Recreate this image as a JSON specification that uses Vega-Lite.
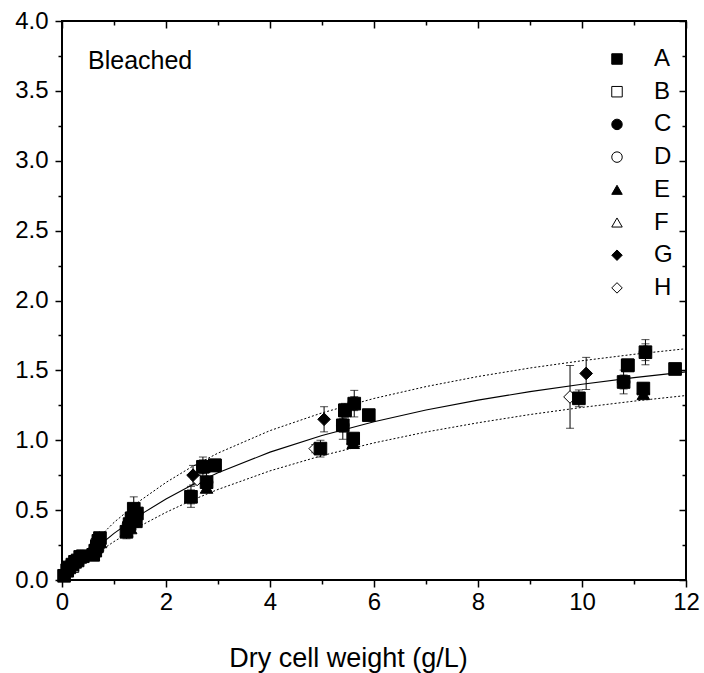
{
  "$schema": "https://vega.github.io/schema/vega-lite/v6.json",
  "width": 624,
  "height": 559,
  "autosize": {"type": "none"},
  "padding": {"left": 62, "top": 21, "right": 18, "bottom": 93},
  "background": "white",
  "config": {
    "font": "Liberation Sans",
    "view": {"stroke": "black", "strokeWidth": 2},
    "axis": {
      "domain": false,
      "grid": false,
      "tickColor": "black",
      "tickWidth": 1.5,
      "labelColor": "black",
      "titleColor": "black",
      "labelFont": "Liberation Sans",
      "titleFont": "Liberation Sans",
      "titleFontWeight": "normal",
      "labelFlush": false,
      "labelOverlap": false
    }
  },
  "datasets": {
    "points": [
      {"s": "B", "x": 0.2, "y": 0.1, "lo": 0.09, "hi": 0.11},
      {"s": "B", "x": 0.68, "y": 0.25, "lo": 0.23, "hi": 0.27},
      {"s": "B", "x": 1.34, "y": 0.44, "lo": 0.41, "hi": 0.47},
      {"s": "B", "x": 2.94, "y": 0.82, "lo": 0.79, "hi": 0.85},
      {"s": "B", "x": 5.44, "y": 1.214, "lo": 1.174, "hi": 1.254},
      {"s": "B", "x": 10.88, "y": 1.536, "lo": 1.506, "hi": 1.566},
      {"s": "C", "x": 0.14, "y": 0.09, "lo": 0.08, "hi": 0.1},
      {"s": "C", "x": 0.7, "y": 0.29, "lo": 0.27, "hi": 0.31},
      {"s": "C", "x": 1.28, "y": 0.4, "lo": 0.37, "hi": 0.43},
      {"s": "C", "x": 2.71, "y": 0.81, "lo": 0.76, "hi": 0.86},
      {"s": "C", "x": 5.4, "y": 1.107, "lo": 1.057, "hi": 1.157},
      {"s": "C", "x": 10.8, "y": 1.417, "lo": 1.367, "hi": 1.467},
      {"s": "D", "x": 0.25, "y": 0.12, "lo": 0.11, "hi": 0.13},
      {"s": "D", "x": 0.64, "y": 0.21, "lo": 0.19, "hi": 0.23},
      {"s": "D", "x": 1.44, "y": 0.48, "lo": 0.45, "hi": 0.51},
      {"s": "D", "x": 2.78, "y": 0.7, "lo": 0.66, "hi": 0.74},
      {"s": "D", "x": 5.62, "y": 1.262, "lo": 1.212, "hi": 1.312},
      {"s": "D", "x": 11.22, "y": 1.63, "lo": 1.57, "hi": 1.69},
      {"s": "F", "x": 0.3, "y": 0.15, "lo": 0.14, "hi": 0.16},
      {"s": "F", "x": 0.6, "y": 0.18, "lo": 0.16, "hi": 0.2},
      {"s": "F", "x": 1.24, "y": 0.35, "lo": 0.32, "hi": 0.38},
      {"s": "F", "x": 2.48, "y": 0.595, "lo": 0.545, "hi": 0.645},
      {"s": "F", "x": 5.6, "y": 1.012, "lo": 0.992, "hi": 1.032},
      {"s": "F", "x": 11.18, "y": 1.37, "lo": 1.35, "hi": 1.39},
      {"s": "E", "x": 0.1, "y": 0.06, "lo": 0.05, "hi": 0.07},
      {"s": "E", "x": 0.74, "y": 0.27, "lo": 0.25, "hi": 0.29},
      {"s": "E", "x": 1.32, "y": 0.37, "lo": 0.34, "hi": 0.4},
      {"s": "E", "x": 2.78, "y": 0.66, "lo": 0.63, "hi": 0.69},
      {"s": "E", "x": 5.6, "y": 0.98, "lo": 0.96, "hi": 1.0},
      {"s": "E", "x": 11.18, "y": 1.33, "lo": 1.31, "hi": 1.35},
      {"s": "H", "x": 0.4, "y": 0.17, "lo": 0.16, "hi": 0.18},
      {"s": "H", "x": 0.72, "y": 0.3, "lo": 0.28, "hi": 0.32},
      {"s": "H", "x": 1.4, "y": 0.42, "lo": 0.39, "hi": 0.45},
      {"s": "H", "x": 2.6, "y": 0.72, "lo": 0.69, "hi": 0.75},
      {"s": "H", "x": 4.87, "y": 0.94, "lo": 0.91, "hi": 0.97},
      {"s": "H", "x": 9.77, "y": 1.31, "lo": 1.085, "hi": 1.535},
      {"s": "G", "x": 0.36, "y": 0.17, "lo": 0.15, "hi": 0.19},
      {"s": "G", "x": 0.66, "y": 0.2, "lo": 0.18, "hi": 0.22},
      {"s": "G", "x": 1.38, "y": 0.47, "lo": 0.44, "hi": 0.5},
      {"s": "G", "x": 2.52, "y": 0.75, "lo": 0.68, "hi": 0.82},
      {"s": "G", "x": 5.04, "y": 1.15, "lo": 1.06, "hi": 1.24},
      {"s": "G", "x": 10.08, "y": 1.478, "lo": 1.363, "hi": 1.593},
      {"s": "A", "x": 0.04, "y": 0.03, "lo": 0.02, "hi": 0.04},
      {"s": "A", "x": 0.1, "y": 0.07, "lo": 0.06, "hi": 0.08},
      {"s": "A", "x": 0.14, "y": 0.09, "lo": 0.08, "hi": 0.1},
      {"s": "A", "x": 0.2, "y": 0.11, "lo": 0.1, "hi": 0.12},
      {"s": "A", "x": 0.25, "y": 0.13, "lo": 0.115, "hi": 0.145},
      {"s": "A", "x": 0.3, "y": 0.14, "lo": 0.125, "hi": 0.155},
      {"s": "A", "x": 0.35, "y": 0.165, "lo": 0.145, "hi": 0.185},
      {"s": "A", "x": 0.4, "y": 0.17, "lo": 0.15, "hi": 0.19},
      {"s": "A", "x": 0.6, "y": 0.18, "lo": 0.16, "hi": 0.2},
      {"s": "A", "x": 0.64, "y": 0.21, "lo": 0.19, "hi": 0.23},
      {"s": "A", "x": 0.67, "y": 0.24, "lo": 0.21, "hi": 0.27},
      {"s": "A", "x": 0.7, "y": 0.28, "lo": 0.25, "hi": 0.31},
      {"s": "A", "x": 0.73, "y": 0.3, "lo": 0.27, "hi": 0.33},
      {"s": "A", "x": 1.24, "y": 0.345, "lo": 0.295, "hi": 0.395},
      {"s": "A", "x": 1.3, "y": 0.4, "lo": 0.36, "hi": 0.44},
      {"s": "A", "x": 1.34, "y": 0.44, "lo": 0.4, "hi": 0.48},
      {"s": "A", "x": 1.38, "y": 0.51, "lo": 0.425, "hi": 0.595},
      {"s": "A", "x": 1.44, "y": 0.476, "lo": 0.436, "hi": 0.516},
      {"s": "A", "x": 1.42, "y": 0.42, "lo": 0.39, "hi": 0.45},
      {"s": "A", "x": 2.48, "y": 0.595, "lo": 0.52, "hi": 0.67},
      {"s": "A", "x": 2.71, "y": 0.81, "lo": 0.74, "hi": 0.88},
      {"s": "A", "x": 2.78, "y": 0.7, "lo": 0.63, "hi": 0.77},
      {"s": "A", "x": 2.94, "y": 0.82, "lo": 0.78, "hi": 0.86},
      {"s": "A", "x": 4.97, "y": 0.94, "lo": 0.88, "hi": 1.0},
      {"s": "A", "x": 5.4, "y": 1.107, "lo": 1.007, "hi": 1.207},
      {"s": "A", "x": 5.44, "y": 1.214, "lo": 1.164, "hi": 1.264},
      {"s": "A", "x": 5.62, "y": 1.262, "lo": 1.167, "hi": 1.357},
      {"s": "A", "x": 5.6, "y": 1.012, "lo": 0.982, "hi": 1.042},
      {"s": "A", "x": 5.9, "y": 1.18, "lo": 1.16, "hi": 1.2},
      {"s": "A", "x": 9.94, "y": 1.3, "lo": 1.24, "hi": 1.36},
      {"s": "A", "x": 10.8, "y": 1.417, "lo": 1.332, "hi": 1.502},
      {"s": "A", "x": 10.88, "y": 1.536, "lo": 1.506, "hi": 1.566},
      {"s": "A", "x": 11.22, "y": 1.63, "lo": 1.54, "hi": 1.72},
      {"s": "A", "x": 11.18, "y": 1.37, "lo": 1.33, "hi": 1.41},
      {"s": "A", "x": 11.79, "y": 1.51, "lo": 1.49, "hi": 1.53}
    ],
    "fit": [
      {"x": 0, "y": 0},
      {"x": 0.25, "y": 0.0945},
      {"x": 0.5, "y": 0.181},
      {"x": 1, "y": 0.334},
      {"x": 1.5, "y": 0.466},
      {"x": 2, "y": 0.579},
      {"x": 2.5, "y": 0.679},
      {"x": 3, "y": 0.767},
      {"x": 4, "y": 0.915},
      {"x": 5, "y": 1.034},
      {"x": 6, "y": 1.133},
      {"x": 7, "y": 1.216},
      {"x": 8, "y": 1.287},
      {"x": 9, "y": 1.348},
      {"x": 10, "y": 1.401},
      {"x": 11, "y": 1.448},
      {"x": 12, "y": 1.489}
    ],
    "bands": [
      {"band": "upper", "x": 0, "y": 0},
      {"band": "upper", "x": 0.25, "y": 0.119},
      {"band": "upper", "x": 0.5, "y": 0.227},
      {"band": "upper", "x": 1, "y": 0.412},
      {"band": "upper", "x": 1.5, "y": 0.567},
      {"band": "upper", "x": 2, "y": 0.698},
      {"band": "upper", "x": 2.5, "y": 0.811},
      {"band": "upper", "x": 3, "y": 0.908},
      {"band": "upper", "x": 4, "y": 1.069},
      {"band": "upper", "x": 5, "y": 1.196},
      {"band": "upper", "x": 6, "y": 1.299},
      {"band": "upper", "x": 7, "y": 1.384},
      {"band": "upper", "x": 8, "y": 1.456},
      {"band": "upper", "x": 9, "y": 1.517},
      {"band": "upper", "x": 10, "y": 1.569},
      {"band": "upper", "x": 11, "y": 1.615},
      {"band": "upper", "x": 12, "y": 1.655},
      {"band": "lower", "x": 0, "y": 0},
      {"band": "lower", "x": 0.25, "y": 0.077},
      {"band": "lower", "x": 0.5, "y": 0.148},
      {"band": "lower", "x": 1, "y": 0.275},
      {"band": "lower", "x": 1.5, "y": 0.386},
      {"band": "lower", "x": 2, "y": 0.484},
      {"band": "lower", "x": 2.5, "y": 0.571},
      {"band": "lower", "x": 3, "y": 0.648},
      {"band": "lower", "x": 4, "y": 0.781},
      {"band": "lower", "x": 5, "y": 0.89},
      {"band": "lower", "x": 6, "y": 0.981},
      {"band": "lower", "x": 7, "y": 1.059},
      {"band": "lower", "x": 8, "y": 1.125},
      {"band": "lower", "x": 9, "y": 1.184},
      {"band": "lower", "x": 10, "y": 1.235},
      {"band": "lower", "x": 11, "y": 1.28},
      {"band": "lower", "x": 12, "y": 1.32}
    ],
    "notes": [
      {"label": "Bleached", "x": 0.5, "y": 3.66}
    ]
  },
  "layer": [
    {
      "data": {"name": "bands"},
      "mark": {"type": "line", "color": "black", "strokeWidth": 1, "strokeDash": [2, 2], "clip": true},
      "encoding": {
        "x": {"field": "x", "type": "quantitative", "scale": {"domain": [0, 12], "nice": false}, "axis": null},
        "y": {"field": "y", "type": "quantitative", "scale": {"domain": [0, 4], "nice": false}, "axis": null},
        "detail": {"field": "band"}
      }
    },
    {
      "data": {"name": "fit"},
      "mark": {"type": "line", "color": "black", "strokeWidth": 1.1, "clip": true},
      "encoding": {
        "x": {"field": "x", "type": "quantitative", "axis": null},
        "y": {"field": "y", "type": "quantitative", "axis": null}
      }
    },
    {
      "data": {"name": "points"},
      "mark": {"type": "errorbar", "ticks": true, "size": 8, "thickness": 1, "color": "black"},
      "encoding": {
        "x": {"field": "x", "type": "quantitative", "axis": null},
        "y": {"field": "lo", "type": "quantitative", "axis": null},
        "y2": {"field": "hi"}
      }
    },
    {
      "data": {"name": "points"},
      "mark": {"type": "point", "filled": true, "size": 160, "stroke": "black", "strokeWidth": 1, "opacity": 1},
      "encoding": {
        "x": {
          "field": "x",
          "type": "quantitative",
          "title": "Dry cell weight (g/L)",
          "axis": {
            "orient": "bottom",
            "values": [0, 1, 2, 3, 4, 5, 6, 7, 8, 9, 10, 11, 12],
            "labelExpr": "datum.value % 2 === 0 ? datum.label : ''",
            "tickSize": {"condition": {"test": "datum.value % 2 === 0", "value": 7}, "value": 4},
            "labelFontSize": 24,
            "labelPadding": 3,
            "titleFontSize": 27,
            "titleX": 286,
            "titleY": 86,
            "titleAlign": "center",
            "titleBaseline": "alphabetic"
          }
        },
        "y": {
          "field": "y",
          "type": "quantitative",
          "axis": {
            "orient": "left",
            "title": null,
            "values": [0, 0.25, 0.5, 0.75, 1, 1.25, 1.5, 1.75, 2, 2.25, 2.5, 2.75, 3, 3.25, 3.5, 3.75, 4],
            "format": ".1f",
            "labelExpr": "datum.value % 0.5 === 0 ? datum.label : ''",
            "tickSize": {"condition": {"test": "datum.value % 0.5 === 0", "value": 7}, "value": 4},
            "labelFontSize": 24,
            "labelPadding": 7
          }
        },
        "shape": {
          "field": "s",
          "type": "nominal",
          "scale": {
            "domain": ["A", "B", "C", "D", "E", "F", "G", "H"],
            "range": ["square", "square", "circle", "circle", "triangle-up", "triangle-up", "diamond", "diamond"]
          },
          "legend": {
            "title": null,
            "orient": "none",
            "legendX": 543,
            "legendY": 26,
            "padding": 0,
            "rowPadding": 8.7,
            "labelFontSize": 24,
            "labelOffset": 25,
            "labelColor": "black",
            "labelFont": "Liberation Sans",
            "symbolStrokeColor": "black",
            "symbolStrokeWidth": 1,
            "symbolOpacity": 1,
            "encode": {"symbols": {"update": {"size": {"value": 110}, "stroke": {"value": "black"}}}}
          }
        },
        "fill": {
          "field": "s",
          "type": "nominal",
          "scale": {
            "domain": ["A", "B", "C", "D", "E", "F", "G", "H"],
            "range": ["black", "white", "black", "white", "black", "white", "black", "white"]
          },
          "legend": {
            "title": null,
            "orient": "none",
            "legendX": 543,
            "legendY": 26,
            "padding": 0,
            "rowPadding": 8.7,
            "labelFontSize": 24,
            "labelOffset": 25,
            "labelColor": "black",
            "labelFont": "Liberation Sans",
            "symbolStrokeColor": "black",
            "symbolStrokeWidth": 1,
            "symbolOpacity": 1,
            "encode": {"symbols": {"update": {"size": {"value": 110}, "stroke": {"value": "black"}}}}
          }
        }
      }
    },
    {
      "data": {"name": "notes"},
      "mark": {"type": "text", "align": "left", "baseline": "alphabetic", "fontSize": 25, "font": "Liberation Sans", "color": "black"},
      "encoding": {
        "x": {
          "field": "x",
          "type": "quantitative",
          "axis": {
            "orient": "top",
            "title": null,
            "labels": false,
            "values": [0, 1, 2, 3, 4, 5, 6, 7, 8, 9, 10, 11, 12],
            "tickSize": {"condition": {"test": "datum.value % 2 === 0", "value": -7}, "value": -4}
          }
        },
        "y": {
          "field": "y",
          "type": "quantitative",
          "axis": {
            "orient": "right",
            "title": null,
            "labels": false,
            "values": [0, 0.25, 0.5, 0.75, 1, 1.25, 1.5, 1.75, 2, 2.25, 2.5, 2.75, 3, 3.25, 3.5, 3.75, 4],
            "tickSize": {"condition": {"test": "datum.value % 0.5 === 0", "value": -7}, "value": -4}
          }
        },
        "text": {"field": "label"}
      }
    }
  ],
  "resolve": {"axis": {"x": "independent", "y": "independent"}}
}
